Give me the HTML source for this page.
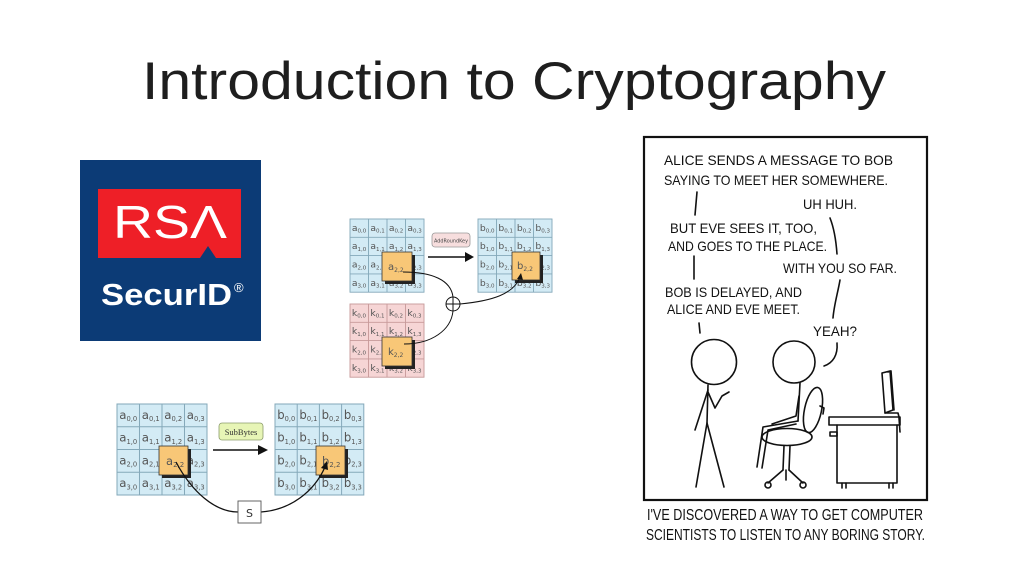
<!DOCTYPE html>
<html>
<head>
<meta charset="utf-8">
<style>
html,body{margin:0;padding:0;background:#fff;}
svg{display:block;}
.cell{font-family:"DejaVu Sans","Liberation Sans",sans-serif;fill:#555;}
.xk{font-family:"Liberation Sans",sans-serif;fill:#111;}
</style>
</head>
<body>
<svg width="1024" height="576" viewBox="0 0 1024 576" xmlns="http://www.w3.org/2000/svg">
<rect width="1024" height="576" fill="#fff"/>

<!-- Title -->
<text x="142" y="99" font-family="Liberation Sans, sans-serif" font-size="53" fill="#1e1e1e" textLength="744" lengthAdjust="spacingAndGlyphs">Introduction to Cryptography</text>

<!-- RSA SecurID logo -->
<rect x="80" y="160" width="181" height="181" fill="#0c3b76"/>
<path d="M98 189 H241 V258 H216 L208 246 L200 258 H98 Z" fill="#ee1f27"/>
<text x="113" y="238" font-family="Liberation Sans, sans-serif" font-size="46" fill="#fff" textLength="114" lengthAdjust="spacingAndGlyphs">RSΛ</text>
<text x="101" y="305" font-family="Liberation Sans, sans-serif" font-weight="bold" font-size="31" fill="#fff" textLength="131" lengthAdjust="spacingAndGlyphs">SecurID</text>
<text x="234" y="292" font-family="Liberation Sans, sans-serif" font-size="13" fill="#fff">®</text>

<!-- ===== AddRoundKey diagram ===== -->
<!-- a grid -->
<g transform="translate(350,219) scale(0.925,0.915)">
<rect width="80" height="80" fill="#d3ebf5" stroke="#85a9ba" stroke-width="1"/>
<path d="M20 0V80M40 0V80M60 0V80M0 20H80M0 40H80M0 60H80" stroke="#85a9ba" stroke-width="1" fill="none"/>
<g class="cell" font-size="10">
<text x="2" y="13">a<tspan font-size="6" dy="2">0,0</tspan></text>
<text x="22" y="13">a<tspan font-size="6" dy="2">0,1</tspan></text>
<text x="42" y="13">a<tspan font-size="6" dy="2">0,2</tspan></text>
<text x="62" y="13">a<tspan font-size="6" dy="2">0,3</tspan></text>
<text x="2" y="33">a<tspan font-size="6" dy="2">1,0</tspan></text>
<text x="22" y="33">a<tspan font-size="6" dy="2">1,1</tspan></text>
<text x="42" y="33">a<tspan font-size="6" dy="2">1,2</tspan></text>
<text x="62" y="33">a<tspan font-size="6" dy="2">1,3</tspan></text>
<text x="2" y="53">a<tspan font-size="6" dy="2">2,0</tspan></text>
<text x="22" y="53">a<tspan font-size="6" dy="2">2,1</tspan></text>
<text x="62" y="53">a<tspan font-size="6" dy="2">2,3</tspan></text>
<text x="2" y="73">a<tspan font-size="6" dy="2">3,0</tspan></text>
<text x="22" y="73">a<tspan font-size="6" dy="2">3,1</tspan></text>
<text x="42" y="73">a<tspan font-size="6" dy="2">3,2</tspan></text>
<text x="62" y="73">a<tspan font-size="6" dy="2">3,3</tspan></text>
</g>
</g>
<!-- k grid -->
<g transform="translate(350,304) scale(0.925,0.915)">
<rect width="80" height="80" fill="#f6d5d5" stroke="#c79a9a" stroke-width="1"/>
<path d="M20 0V80M40 0V80M60 0V80M0 20H80M0 40H80M0 60H80" stroke="#c79a9a" stroke-width="1" fill="none"/>
<g class="cell" font-size="10">
<text x="2" y="13">k<tspan font-size="6" dy="2">0,0</tspan></text>
<text x="22" y="13">k<tspan font-size="6" dy="2">0,1</tspan></text>
<text x="42" y="13">k<tspan font-size="6" dy="2">0,2</tspan></text>
<text x="62" y="13">k<tspan font-size="6" dy="2">0,3</tspan></text>
<text x="2" y="33">k<tspan font-size="6" dy="2">1,0</tspan></text>
<text x="22" y="33">k<tspan font-size="6" dy="2">1,1</tspan></text>
<text x="42" y="33">k<tspan font-size="6" dy="2">1,2</tspan></text>
<text x="62" y="33">k<tspan font-size="6" dy="2">1,3</tspan></text>
<text x="2" y="53">k<tspan font-size="6" dy="2">2,0</tspan></text>
<text x="22" y="53">k<tspan font-size="6" dy="2">2,1</tspan></text>
<text x="62" y="53">k<tspan font-size="6" dy="2">2,3</tspan></text>
<text x="2" y="73">k<tspan font-size="6" dy="2">3,0</tspan></text>
<text x="22" y="73">k<tspan font-size="6" dy="2">3,1</tspan></text>
<text x="42" y="73">k<tspan font-size="6" dy="2">3,2</tspan></text>
<text x="62" y="73">k<tspan font-size="6" dy="2">3,3</tspan></text>
</g>
</g>
<!-- b grid -->
<g transform="translate(478,219) scale(0.925,0.915)">
<rect width="80" height="80" fill="#d3ebf5" stroke="#85a9ba" stroke-width="1"/>
<path d="M20 0V80M40 0V80M60 0V80M0 20H80M0 40H80M0 60H80" stroke="#85a9ba" stroke-width="1" fill="none"/>
<g class="cell" font-size="10">
<text x="2" y="13">b<tspan font-size="6" dy="2">0,0</tspan></text>
<text x="22" y="13">b<tspan font-size="6" dy="2">0,1</tspan></text>
<text x="42" y="13">b<tspan font-size="6" dy="2">0,2</tspan></text>
<text x="62" y="13">b<tspan font-size="6" dy="2">0,3</tspan></text>
<text x="2" y="33">b<tspan font-size="6" dy="2">1,0</tspan></text>
<text x="22" y="33">b<tspan font-size="6" dy="2">1,1</tspan></text>
<text x="42" y="33">b<tspan font-size="6" dy="2">1,2</tspan></text>
<text x="62" y="33">b<tspan font-size="6" dy="2">1,3</tspan></text>
<text x="2" y="53">b<tspan font-size="6" dy="2">2,0</tspan></text>
<text x="22" y="53">b<tspan font-size="6" dy="2">2,1</tspan></text>
<text x="62" y="53">b<tspan font-size="6" dy="2">2,3</tspan></text>
<text x="2" y="73">b<tspan font-size="6" dy="2">3,0</tspan></text>
<text x="22" y="73">b<tspan font-size="6" dy="2">3,1</tspan></text>
<text x="42" y="73">b<tspan font-size="6" dy="2">3,2</tspan></text>
<text x="62" y="73">b<tspan font-size="6" dy="2">3,3</tspan></text>
</g>
</g>
<!-- orange boxes -->
<rect x="385" y="255" width="30" height="29" fill="#222"/>
<rect x="382" y="252" width="30" height="29" fill="#f8c777" stroke="#333" stroke-width="0.8"/>
<text class="cell" x="388" y="270" font-size="10">a<tspan font-size="6" dy="2">2,2</tspan></text>
<rect x="385" y="340" width="30" height="29" fill="#222"/>
<rect x="382" y="337" width="30" height="29" fill="#f8c777" stroke="#333" stroke-width="0.8"/>
<text class="cell" x="388" y="355" font-size="10">k<tspan font-size="6" dy="2">2,2</tspan></text>
<rect x="515" y="255" width="28" height="28" fill="#222"/>
<rect x="512" y="252" width="28" height="28" fill="#f8c777" stroke="#333" stroke-width="0.8"/>
<text class="cell" x="517" y="269" font-size="10">b<tspan font-size="6" dy="2">2,2</tspan></text>
<!-- AddRoundKey label + arrow -->
<rect x="432" y="233" width="38" height="14" rx="3" fill="#f7dede" stroke="#999" stroke-width="0.8"/>
<text x="451" y="242.5" font-family="DejaVu Sans, sans-serif" font-size="5.5" fill="#444" text-anchor="middle" textLength="34" lengthAdjust="spacingAndGlyphs">AddRoundKey</text>
<line x1="428" y1="257" x2="466" y2="257" stroke="#111" stroke-width="1.6"/>
<path d="M465 252 L474 257 L465 262 Z" fill="#111"/>
<!-- connectors -->
<g fill="none" stroke="#111" stroke-width="1">
<path d="M403 272 C 432 272, 451 280, 453 297"/>
<path d="M404 344 C 432 344, 451 330, 453 311"/>
<path d="M460 304 C 492 301, 514 294, 520 277"/>
</g>
<path d="M517 279 L521 273 L523 280 Z" fill="#111"/>
<circle cx="453" cy="304" r="7" fill="#fff" stroke="#111" stroke-width="1"/>
<path d="M446 304 H460 M453 297 V311" stroke="#111" stroke-width="1"/>

<!-- ===== SubBytes diagram ===== -->
<g transform="translate(117,404) scale(1.125,1.1375)">
<rect width="80" height="80" fill="#d3ebf5" stroke="#85a9ba" stroke-width="0.9"/>
<path d="M20 0V80M40 0V80M60 0V80M0 20H80M0 40H80M0 60H80" stroke="#85a9ba" stroke-width="0.9" fill="none"/>
<g class="cell" font-size="10.5">
<text x="2" y="13">a<tspan font-size="6" dy="2">0,0</tspan></text>
<text x="22" y="13">a<tspan font-size="6" dy="2">0,1</tspan></text>
<text x="42" y="13">a<tspan font-size="6" dy="2">0,2</tspan></text>
<text x="62" y="13">a<tspan font-size="6" dy="2">0,3</tspan></text>
<text x="2" y="33">a<tspan font-size="6" dy="2">1,0</tspan></text>
<text x="22" y="33">a<tspan font-size="6" dy="2">1,1</tspan></text>
<text x="42" y="33">a<tspan font-size="6" dy="2">1,2</tspan></text>
<text x="62" y="33">a<tspan font-size="6" dy="2">1,3</tspan></text>
<text x="2" y="53">a<tspan font-size="6" dy="2">2,0</tspan></text>
<text x="22" y="53">a<tspan font-size="6" dy="2">2,1</tspan></text>
<text x="62" y="53">a<tspan font-size="6" dy="2">2,3</tspan></text>
<text x="2" y="73">a<tspan font-size="6" dy="2">3,0</tspan></text>
<text x="22" y="73">a<tspan font-size="6" dy="2">3,1</tspan></text>
<text x="42" y="73">a<tspan font-size="6" dy="2">3,2</tspan></text>
<text x="62" y="73">a<tspan font-size="6" dy="2">3,3</tspan></text>
</g>
</g>
<g transform="translate(275,404) scale(1.11,1.1375)">
<rect width="80" height="80" fill="#d3ebf5" stroke="#85a9ba" stroke-width="0.9"/>
<path d="M20 0V80M40 0V80M60 0V80M0 20H80M0 40H80M0 60H80" stroke="#85a9ba" stroke-width="0.9" fill="none"/>
<g class="cell" font-size="10.5">
<text x="2" y="13">b<tspan font-size="6" dy="2">0,0</tspan></text>
<text x="22" y="13">b<tspan font-size="6" dy="2">0,1</tspan></text>
<text x="42" y="13">b<tspan font-size="6" dy="2">0,2</tspan></text>
<text x="62" y="13">b<tspan font-size="6" dy="2">0,3</tspan></text>
<text x="2" y="33">b<tspan font-size="6" dy="2">1,0</tspan></text>
<text x="22" y="33">b<tspan font-size="6" dy="2">1,1</tspan></text>
<text x="42" y="33">b<tspan font-size="6" dy="2">1,2</tspan></text>
<text x="62" y="33">b<tspan font-size="6" dy="2">1,3</tspan></text>
<text x="2" y="53">b<tspan font-size="6" dy="2">2,0</tspan></text>
<text x="22" y="53">b<tspan font-size="6" dy="2">2,1</tspan></text>
<text x="62" y="53">b<tspan font-size="6" dy="2">2,3</tspan></text>
<text x="2" y="73">b<tspan font-size="6" dy="2">3,0</tspan></text>
<text x="22" y="73">b<tspan font-size="6" dy="2">3,1</tspan></text>
<text x="42" y="73">b<tspan font-size="6" dy="2">3,2</tspan></text>
<text x="62" y="73">b<tspan font-size="6" dy="2">3,3</tspan></text>
</g>
</g>
<rect x="162" y="449" width="29" height="29" fill="#222"/>
<rect x="159" y="446" width="29" height="29" fill="#f8c777" stroke="#333" stroke-width="0.8"/>
<text class="cell" x="166" y="465" font-size="11.5">a<tspan font-size="7" dy="2">2,2</tspan></text>
<rect x="319" y="449" width="29" height="29" fill="#222"/>
<rect x="316" y="446" width="29" height="29" fill="#f8c777" stroke="#333" stroke-width="0.8"/>
<text class="cell" x="322" y="465" font-size="11.5">b<tspan font-size="7" dy="2">2,2</tspan></text>
<rect x="219" y="423" width="44" height="17" rx="3" fill="#e7f5b6" stroke="#8c9c6c" stroke-width="0.8"/>
<text x="241" y="435" font-family="Liberation Serif, serif" font-size="8.5" fill="#333" text-anchor="middle">SubBytes</text>
<line x1="213" y1="450" x2="259" y2="450" stroke="#111" stroke-width="1.6"/>
<path d="M258 445 L268 450 L258 455 Z" fill="#111"/>
<g fill="none" stroke="#111" stroke-width="1.3">
<path d="M176 462 C 192 492, 215 512, 238 512"/>
<path d="M261 512 C 290 510, 314 492, 325 467"/>
</g>
<path d="M321 468 L327 461 L328 470 Z" fill="#111"/>
<rect x="238" y="501" width="23" height="22" fill="#fff" stroke="#555" stroke-width="0.9"/>
<text x="249.5" y="517" font-family="DejaVu Sans, sans-serif" font-size="11" fill="#333" text-anchor="middle">S</text>

<!-- ===== xkcd comic ===== -->
<rect x="644" y="137" width="283" height="363" fill="#fff" stroke="#111" stroke-width="2.2"/>
<g class="xk" font-size="14">
<text x="664" y="165" textLength="229" lengthAdjust="spacingAndGlyphs">ALICE SENDS A MESSAGE TO BOB</text>
<text x="664" y="185" textLength="224" lengthAdjust="spacingAndGlyphs">SAYING TO MEET HER SOMEWHERE.</text>
<text x="803" y="209" textLength="54" lengthAdjust="spacingAndGlyphs">UH HUH.</text>
<text x="670" y="233" textLength="147" lengthAdjust="spacingAndGlyphs">BUT EVE SEES IT, TOO,</text>
<text x="668" y="251" textLength="159" lengthAdjust="spacingAndGlyphs">AND GOES TO THE PLACE.</text>
<text x="783" y="273" textLength="114" lengthAdjust="spacingAndGlyphs">WITH YOU SO FAR.</text>
<text x="665" y="297" textLength="137" lengthAdjust="spacingAndGlyphs">BOB IS DELAYED, AND</text>
<text x="667" y="314" textLength="133" lengthAdjust="spacingAndGlyphs">ALICE AND EVE MEET.</text>
<text x="813" y="336" textLength="44" lengthAdjust="spacingAndGlyphs">YEAH?</text>
</g>
<g fill="none" stroke="#111" stroke-width="1.6" stroke-linecap="round" stroke-linejoin="round">
<!-- speech connectors -->
<path d="M697 192 L695 215"/>
<path d="M694 256 L694 279"/>
<path d="M699 323 L700 333"/>
<path d="M830 218 C 834 228, 836 240, 837 254"/>
<path d="M840 280 C 838 292, 834 305, 833 318"/>
<path d="M837 343 C 838 355, 833 363, 824 366"/>
<!-- left figure -->
<circle cx="714" cy="362" r="22.5"/>
<path d="M708 385 L707 423"/>
<path d="M707 423 L696 487 M707 423 L724 487"/>
<path d="M708 390 L695 430"/>
<path d="M708 392 L715 408 L722 396 L729 392"/>
<!-- right figure -->
<circle cx="794" cy="362" r="21"/>
<path d="M800 383 L798 421"/>
<path d="M798 421 L763 427 L757 467"/>
<path d="M796 424 L768 430 L762 468"/>
<path d="M799 396 L796 416 L772 424"/>
<!-- chair -->
<ellipse cx="787" cy="437" rx="25" ry="8.5"/>
<ellipse cx="813" cy="410" rx="8.5" ry="23" transform="rotate(12 813 410)"/>
<path d="M820 406 L824 408 L823 414"/>
<path d="M784 446 L783 470 M790 446 L789 470"/>
<path d="M783 470 L768 483 M789 470 L803 483 M786 470 L786 480"/>
<circle cx="768" cy="485" r="3"/>
<circle cx="803" cy="485" r="3"/>
<!-- desk -->
<path d="M829 417 L900 417 L900 425 L829 425 Z"/>
<path d="M837 425 L837 483 L897 483 L897 425"/>
<path d="M830 432 L837 432 L837 436 L830 436 Z"/>
<path d="M842 483 L842 488 M846 483 L846 488 M889 483 L889 488 M893 483 L893 488"/>
<!-- monitor -->
<path d="M882 373 L890 371 L893 410 L885 413 Z"/>
<path d="M888 372 L891 371 L894 410"/>
<path d="M885 413 L898 413 L899 417"/>
<path d="M899 418 L900 432"/>
</g>
<g class="xk" font-size="16">
<text x="647" y="520" textLength="276" lengthAdjust="spacingAndGlyphs">I'VE DISCOVERED A WAY TO GET COMPUTER</text>
<text x="646" y="540" textLength="279" lengthAdjust="spacingAndGlyphs">SCIENTISTS TO LISTEN TO ANY BORING STORY.</text>
</g>
</svg>
</body>
</html>
